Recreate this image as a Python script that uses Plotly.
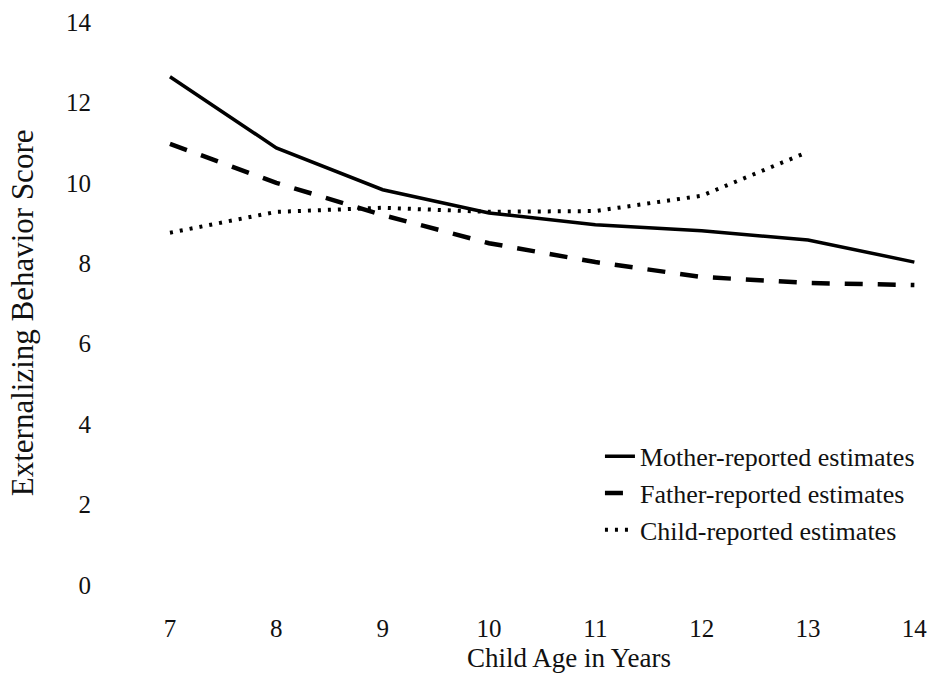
import plotly.graph_objects as go

ages = [7, 8, 9, 10, 11, 12, 13, 14]
mother = [12.64, 10.87, 9.83, 9.25, 8.96, 8.81, 8.58, 8.03]
father = [10.97, 10.0, 9.2, 8.5, 8.03, 7.66, 7.51, 7.46]
child_ages = [7, 8, 9, 10, 11, 12, 13]
child = [8.76, 9.28, 9.38, 9.28, 9.30, 9.68, 10.77]
y_ticks = [0, 2, 4, 6, 8, 10, 12, 14]

FONT = "Liberation Serif"
INK = "#111"

fig = go.Figure()
fig.add_trace(go.Scatter(x=ages, y=mother, mode="lines", name="Mother-reported estimates",
                         line=dict(color="black", width=3.5)))
fig.add_trace(go.Scatter(x=ages, y=father, mode="lines", name="Father-reported estimates",
                         line=dict(color="black", width=4.5, dash="18px,15px")))
fig.add_trace(go.Scatter(x=child_ages, y=child, mode="lines", name="Child-reported estimates",
                         line=dict(color="black", width=4, dash="3px,7px")))

fig.update_layout(
    width=935, height=673,
    margin=dict(l=100, r=10, t=12, b=75),
    paper_bgcolor="white", plot_bgcolor="white",
    font=dict(family=FONT, size=25, color=INK),
    showlegend=True,
    legend=dict(x=0.606, y=0.282, xanchor="left", yanchor="top",
                bgcolor="rgba(0,0,0,0)", font=dict(family=FONT, size=26, color=INK),
                itemwidth=30),
    xaxis=dict(range=[6.342, 14.10], tickvals=ages, showgrid=False, zeroline=False,
               showline=False, ticks="outside", ticklen=8, tickcolor="white",
               automargin=False, tickfont=dict(family=FONT, size=25, color=INK)),
    yaxis=dict(range=[-0.323, 14.249], tickvals=y_ticks, showgrid=False, zeroline=False,
               showline=False, ticks="outside", ticklen=3, tickcolor="white",
               automargin=False, tickfont=dict(family=FONT, size=25, color=INK)),
    annotations=[
        dict(text="Child Age in Years", xref="paper", yref="paper", x=0.5685, y=-0.1024,
             xanchor="center", yanchor="middle", showarrow=False,
             font=dict(family=FONT, size=27, color=INK)),
        dict(text="Externalizing Behavior Score", xref="paper", yref="paper", x=-0.0945, y=0.486,
             xanchor="center", yanchor="middle", showarrow=False, textangle=-90,
             font=dict(family=FONT, size=31, color=INK)),
    ],
)

fig.write_html("out.html", config={"displayModeBar": False},
               post_script="document.body.style.margin='0';document.body.style.overflow='hidden';")
